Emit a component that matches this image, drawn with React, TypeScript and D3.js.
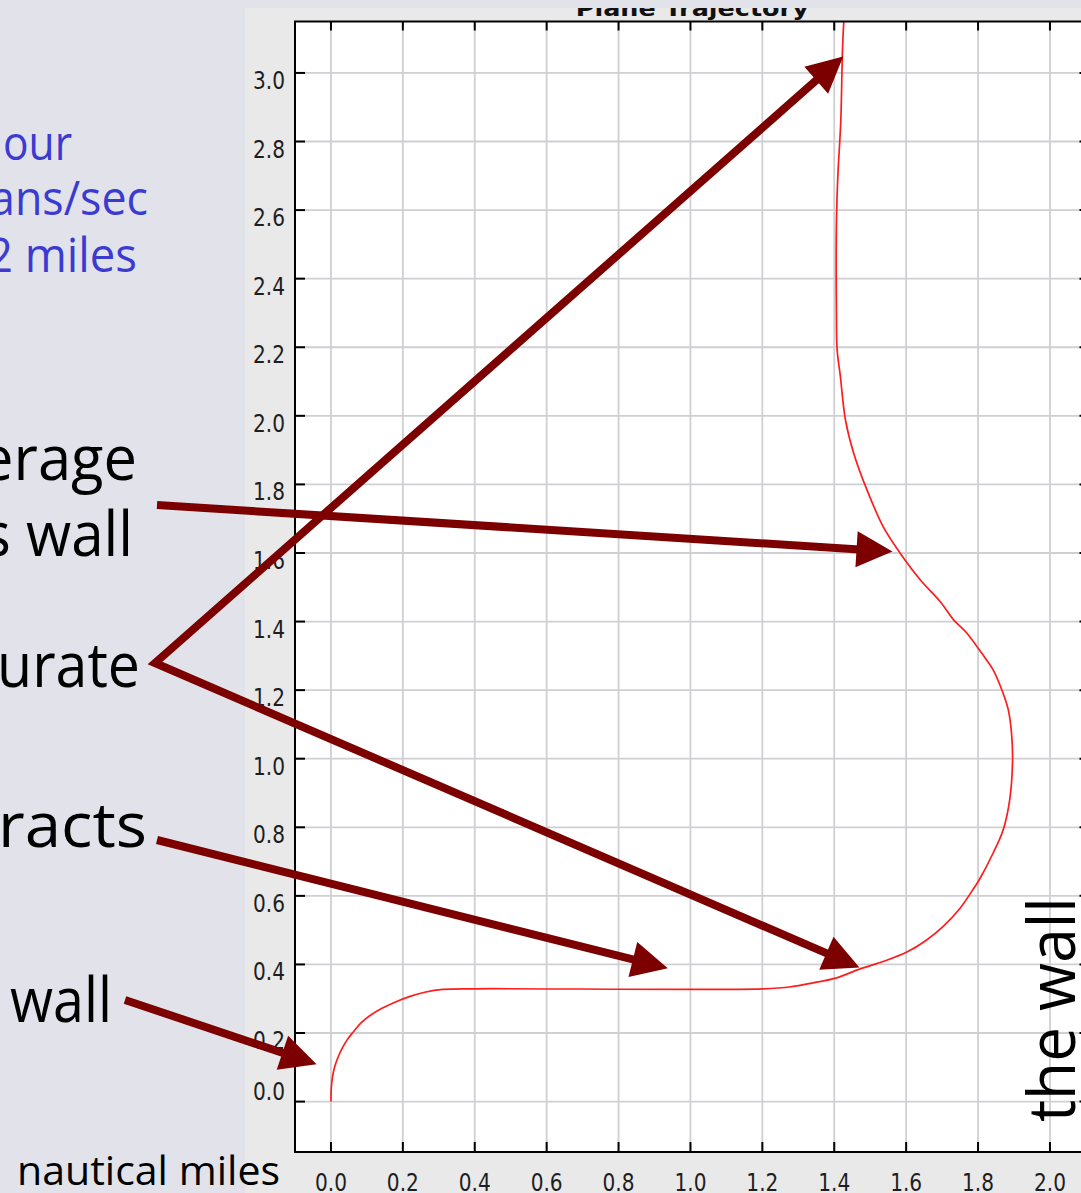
import React from "react";
import * as d3 from "d3";

const W = 1081;
const H = 1193;

// Plane trajectory, both coordinates in nautical miles
const trajX = [
  0, 0.001, 0.004, 0.01, 0.018, 0.03, 0.045, 0.062, 0.083, 0.11, 0.142, 0.178, 0.22, 0.261, 0.311, 0.4,
  1.2, 1.28, 1.344, 1.404, 1.472, 1.54, 1.602, 1.655, 1.704, 1.75, 1.79, 1.805, 1.842, 1.87, 1.888,
  1.896, 1.893, 1.884, 1.866, 1.842, 1.81, 1.769, 1.732, 1.694, 1.639, 1.583, 1.536, 1.491, 1.454,
  1.431, 1.417, 1.408, 1.406, 1.406, 1.41, 1.418, 1.423, 1.427,
];
const trajY = [
  0, 0.04, 0.07, 0.1, 0.125, 0.153, 0.18, 0.203, 0.229, 0.252, 0.272, 0.29, 0.307, 0.319, 0.327, 0.329,
  0.329, 0.335, 0.347, 0.36, 0.387, 0.41, 0.436, 0.47, 0.512, 0.564, 0.625, 0.65, 0.725, 0.793, 0.88,
  0.997, 1.075, 1.143, 1.201, 1.259, 1.308, 1.366, 1.405, 1.459, 1.522, 1.6, 1.677, 1.784, 1.891,
  1.989, 2.115, 2.193, 2.3, 2.56, 2.7, 2.855, 3.069, 3.16,
];

const xTicks = [0, 0.2, 0.4, 0.6, 0.8, 1.0, 1.2, 1.4, 1.6, 1.8, 2.0];
const yTicks = [0, 0.2, 0.4, 0.6, 0.8, 1.0, 1.2, 1.4, 1.6, 1.8, 2.0, 2.2, 2.4, 2.6, 2.8, 3.0];
const chartTitle = "Plane Trajectory";

// Callout arrows: tails sit in the slide text, tips point at spots on the trajectory (data units)
const arrowTipX = [1.425, 1.47, 1.562, 0.937, -0.04];
const arrowTipY = [3.048, 0.391, 1.604, 0.389, 0.109];
const arrowTails: [number, number][] = [
  [155, 663],
  [155, 663],
  [157, 505],
  [157, 840],
  [125, 1000],
];

type Note = {
  text: string;
  x: number;
  y: number;
  anchor: "start" | "end";
  size: number;
  color: string;
  len: number;
  rotate?: number;
};

const BLUE = "#3b3bd2";
const INK = "#000000";
const slideNotes: Note[] = [
  { text: "our", x: 3, y: 160, anchor: "start", size: 48, color: BLUE, len: 69 },
  { text: "ans/sec", x: 148, y: 215, anchor: "end", size: 48, color: BLUE, len: 158 },
  { text: "2 miles", x: 137, y: 272, anchor: "end", size: 48, color: BLUE, len: 150 },
  { text: "erage", x: 137, y: 480, anchor: "end", size: 63, color: INK, len: 157 },
  { text: "s wall", x: 133, y: 556, anchor: "end", size: 63, color: INK, len: 150 },
  { text: "urate", x: 140, y: 687, anchor: "end", size: 63, color: INK, len: 143 },
  { text: "racts", x: 147, y: 847, anchor: "end", size: 63, color: INK, len: 149 },
  { text: "wall", x: 10, y: 1022, anchor: "start", size: 63, color: INK, len: 102 },
  { text: "nautical miles", x: 17, y: 1185, anchor: "start", size: 40, color: INK, len: 263 },
  { text: "the wall", x: 1075, y: 1122, anchor: "start", size: 66, color: INK, len: 225, rotate: -90 },
];

const SLIDE_FONT = "'Comic Sans MS', 'Open Sans', sans-serif";
const AXIS_FONT = "'DejaVu Sans', sans-serif";
const ARROW = "#7d0000";

const plot = { left: 295, top: 21.5, right: 1089.5, bottom: 1152 };

export default function App() {
  const x = d3.scaleLinear().domain([-0.1, 2.11]).range([plot.left, plot.right]);
  const y = d3.scaleLinear().domain([-0.147, 3.15]).range([plot.bottom, plot.top]);

  const idx = d3.range(trajX.length);
  const path = d3
    .line<number>()
    .x((i) => x(trajX[i]))
    .y((i) => y(trajY[i]))
    .curve(d3.curveCatmullRom.alpha(0.5))(idx) as string;

  const fmt = d3.format(".1f");

  // arrow geometry
  const headLen = 36;
  const headHalf = 18;
  const heads = arrowTails.map(([tx, ty], i) => {
    const px = x(arrowTipX[i]);
    const py = y(arrowTipY[i]);
    const dx = px - tx;
    const dy = py - ty;
    const L = Math.hypot(dx, dy);
    const ux = dx / L;
    const uy = dy / L;
    const bx = px - ux * headLen;
    const by = py - uy * headLen;
    const nx = -uy;
    const ny = ux;
    return {
      tip: [px, py],
      base: [bx + ux * 3, by + uy * 3],
      poly: `${px},${py} ${bx + nx * headHalf},${by + ny * headHalf} ${bx - nx * headHalf},${by - ny * headHalf}`,
    };
  });

  // the first two arrows share a tail and form one bent stroke
  const bent = `M${heads[0].base[0]},${heads[0].base[1]} L${arrowTails[0][0]},${arrowTails[0][1]} L${heads[1].base[0]},${heads[1].base[1]}`;

  return (
    <svg
      width={W}
      height={H}
      viewBox={`0 0 ${W} ${H}`}
      style={{ position: "absolute", left: 0, top: 0, display: "block" }}
    >
      <defs>
        <clipPath id="panelClip">
          <rect x={245} y={8} width={W - 245} height={H - 8} />
        </clipPath>
        <clipPath id="plotClip">
          <rect x={plot.left} y={plot.top} width={plot.right - plot.left} height={plot.bottom - plot.top} />
        </clipPath>
      </defs>

      {/* slide background */}
      <rect x={0} y={0} width={W} height={H} fill="#e2e3ea" />

      {/* chart panel */}
      <g clipPath="url(#panelClip)">
        <rect x={245} y={8} width={W - 245} height={H - 8} fill="#e9e9ea" />
        <text
          x={(plot.left + plot.right) / 2}
          y={16}
          textAnchor="middle"
          fontFamily={AXIS_FONT}
          fontWeight="bold"
          fontSize={22}
          textLength={233}
          lengthAdjust="spacingAndGlyphs"
          fill="#111"
        >
          {chartTitle}
        </text>

        <rect
          x={plot.left}
          y={plot.top}
          width={plot.right - plot.left}
          height={plot.bottom - plot.top}
          fill="#ffffff"
        />

        {/* grid */}
        <g stroke="#cfcfd4" strokeWidth={1.8}>
          {xTicks.map((v) => (
            <line key={`gx${v}`} x1={x(v)} x2={x(v)} y1={plot.top} y2={plot.bottom} />
          ))}
          {yTicks.map((v) => (
            <line key={`gy${v}`} x1={plot.left} x2={plot.right} y1={y(v)} y2={y(v)} />
          ))}
        </g>

        {/* trajectory */}
        <g clipPath="url(#plotClip)">
          <path d={path} fill="none" stroke="#ff1c1c" strokeWidth={1.7} strokeLinejoin="round" />
        </g>

        {/* frame and inward ticks */}
        <rect
          x={plot.left}
          y={plot.top}
          width={plot.right - plot.left}
          height={plot.bottom - plot.top}
          fill="none"
          stroke="#000"
          strokeWidth={2}
        />
        <g stroke="#000" strokeWidth={2}>
          {xTicks.map((v) => (
            <g key={`tx${v}`}>
              <line x1={x(v)} x2={x(v)} y1={plot.bottom} y2={plot.bottom - 10} />
              <line x1={x(v)} x2={x(v)} y1={plot.top} y2={plot.top + 9} />
            </g>
          ))}
          {yTicks.map((v) => (
            <g key={`ty${v}`}>
              <line x1={plot.left} x2={plot.left + 10} y1={y(v)} y2={y(v)} />
              <line x1={plot.right} x2={plot.right - 10} y1={y(v)} y2={y(v)} />
            </g>
          ))}
        </g>

        {/* tick labels */}
        <g fontFamily={AXIS_FONT} fontSize={25} fill="#1e1e1e">
          {xTicks.map((v) => (
            <text
              key={`lx${v}`}
              x={x(v)}
              y={1191}
              textAnchor="middle"
              textLength={32}
              lengthAdjust="spacingAndGlyphs"
            >
              {fmt(v)}
            </text>
          ))}
          {yTicks.map((v) => (
            <text
              key={`ly${v}`}
              x={285}
              // the zero label sits just above its tick, the others hang below theirs
              y={v === 0 ? y(v) - 2 : y(v) + 16}
              textAnchor="end"
              textLength={32}
              lengthAdjust="spacingAndGlyphs"
            >
              {fmt(v)}
            </text>
          ))}
        </g>
      </g>

      {/* slide text */}
      <g fontFamily={SLIDE_FONT}>
        {slideNotes.map((n) => (
          <text
            key={n.text}
            x={n.x}
            y={n.y}
            fontSize={n.size}
            fill={n.color}
            textAnchor={n.anchor}
            textLength={n.len}
            lengthAdjust="spacingAndGlyphs"
            transform={n.rotate ? `rotate(${n.rotate} ${n.x} ${n.y})` : undefined}
          >
            {n.text}
          </text>
        ))}
      </g>

      {/* callout arrows */}
      <g>
        <path d={bent} fill="none" stroke={ARROW} strokeWidth={8} strokeLinejoin="miter" strokeMiterlimit={10} />
        {heads.slice(2).map((h, i) => (
          <line
            key={`shaft${i}`}
            x1={arrowTails[i + 2][0]}
            y1={arrowTails[i + 2][1]}
            x2={h.base[0]}
            y2={h.base[1]}
            stroke={ARROW}
            strokeWidth={8}
          />
        ))}
        {heads.map((h, i) => (
          <polygon key={`head${i}`} points={h.poly} fill={ARROW} />
        ))}
      </g>
    </svg>
  );
}
